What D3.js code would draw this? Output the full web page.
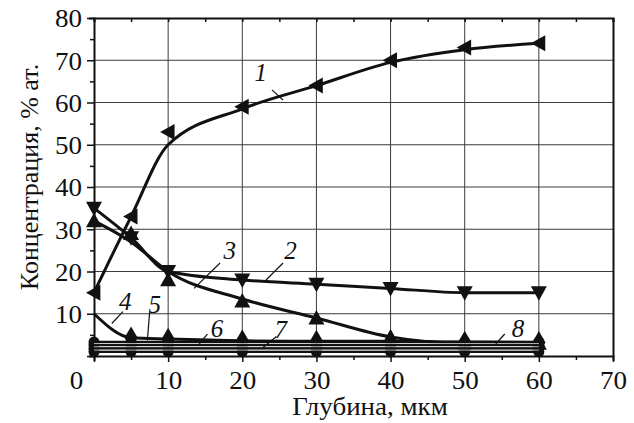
<!DOCTYPE html>
<html><head><meta charset="utf-8">
<script src="https://cdn.jsdelivr.net/npm/d3@7"></script>
<style>body{margin:0;background:#fff}svg{display:block}</style>
</head><body>
<svg id="c" width="634" height="423" style="font-family:'Times New Roman'"></svg>
<script>
const depth = [0, 5, 10, 20, 30, 40, 50, 60];
const s1 = [15, 33, 53, 59, 64, 70, 73, 74];
const s1curve = [15, 33, 50, 58.5, 64, 69.5, 72.5, 74];
const s2 = [35, 28, 20, 18, 17, 16, 15, 15];
const s3 = [32, 29, 18, 13, 9, 4.5, 3, 3];
const s3curve = [32, 27, 20, 13.5, 9, 4.5, 3, 3];
const s4 = [10, 4.3, 4, 3.6, 3.5, 3.5, 3.3, 3.2];
const s5 = [3.3, 3.3, 3.3, 3.3, 3.3, 3.3, 3.3, 3.3];
const s6 = [2.6, 2.6, 2.6, 2.6, 2.6, 2.6, 2.6, 2.6];
const s7 = [1.8, 1.8, 1.8, 1.8, 1.8, 1.8, 1.8, 1.8];
const s8 = [1.0, 1.0, 1.0, 1.0, 1.0, 1.0, 1.0, 1.0];
const xTicks = [0, 10, 20, 30, 40, 50, 60, 70];
const yTicks = [10, 20, 30, 40, 50, 60, 70, 80];
const xTitle = "Глубина, мкм";
const yTitle = "Концентрация, % ат.";
const labels = [
  {t: "1", x: 22.5, y: 65, x1: 24, y1: 63, x2: 25.5, y2: 60.6},
  {t: "2", x: 26.5, y: 23, x1: 25.5, y1: 22, x2: 23.2, y2: 18},
  {t: "3", x: 18.3, y: 23, x1: 17, y1: 22, x2: 13.5, y2: 16},
  {t: "4", x: 4.2, y: 11, x1: 3.9, y1: 10.5, x2: 2.4, y2: 7.7},
  {t: "5", x: 8.2, y: 10.2, x1: 7.5, y1: 10.3, x2: 7.2, y2: 3.7},
  {t: "6", x: 16.6, y: 4.6, x1: 15.3, y1: 5.2, x2: 14.2, y2: 2.9},
  {t: "7", x: 25.2, y: 4.2, x1: 24.6, y1: 4.6, x2: 22.8, y2: 2.0},
  {t: "8", x: 57.2, y: 4.6, x1: 55.4, y1: 5.2, x2: 54.2, y2: 2.9}
];
const FONT = "Times New Roman";
const SX = 1.08;

const svg = d3.select("#c");
const L = 94, R = 613, T = 18, B = 356;
const x = d3.scaleLinear().domain([0, 70]).range([L, R]);
const y = d3.scaleLinear().domain([0, 80]).range([B, T]);

// grid
const g = svg.append("g");
g.selectAll(".gx").data(xTicks.slice(1, -1)).join("line")
  .attr("x1", d => x(d)).attr("x2", d => x(d)).attr("y1", T).attr("y2", B)
  .attr("stroke", "#3a3a3a").attr("stroke-width", 1);
g.selectAll(".gy").data(yTicks.slice(0, -1)).join("line")
  .attr("x1", L).attr("x2", R).attr("y1", d => y(d)).attr("y2", d => y(d))
  .attr("stroke", "#3a3a3a").attr("stroke-width", 1);

// axes
const minorX = d3.range(0, 71, 5), minorY = d3.range(0, 81, 5);
const xb = d3.axisBottom(x).tickValues(minorX).tickSize(5).tickFormat(d => d % 10 === 0 ? d : "");
const ax = svg.append("g").attr("transform", `translate(0,${B})`).call(xb);
ax.selectAll(".tick line").attr("y2", d => d % 10 === 0 ? 6 : 4);
ax.selectAll("text").attr("y", 33).attr("dy", null).attr("x", d => d === 0 ? -18 / SX : 0)
  .attr("transform", `scale(${SX},1)`);
const yl = d3.axisLeft(y).tickValues(minorY).tickSize(5).tickFormat(d => d % 10 === 0 && d !== 0 ? d : "");
const ay = svg.append("g").attr("transform", `translate(${L},0)`).call(yl);
ay.selectAll(".tick line").attr("x2", d => d % 10 === 0 ? -7 : -4);
ay.selectAll("text").attr("x", -12 / SX).attr("dy", "0.35em").attr("transform", `scale(${SX},1)`);
const at = svg.append("g").attr("transform", `translate(0,${T})`).call(d3.axisTop(x).tickValues(minorX).tickSize(-4).tickFormat(""));
const ar = svg.append("g").attr("transform", `translate(${R},0)`).call(d3.axisRight(y).tickValues(minorY).tickSize(0).tickFormat(""));
[ax, ay, at, ar].forEach(a => {
  a.attr("font-family", FONT).attr("font-size", 25);
  a.selectAll("text").style("font-family", `"${FONT}"`).style("font-size", "25px").attr("fill", "#111");
  a.select(".domain").attr("stroke", "#111").attr("stroke-width", 2);
  a.selectAll(".tick line").attr("stroke", "#111").attr("stroke-width", 1.5);
});

// lines
const line = d3.line().x((d, i) => x(depth[i])).y(d => y(d)).curve(d3.curveMonotoneX);
const curves = [s1curve, s2, s3curve, s4, s5, s6, s7, s8];
svg.append("g").selectAll("path").data(curves).join("path")
  .attr("d", d => line(d)).attr("fill", "none").attr("stroke", "#111").attr("stroke-width", (d, i) => i >= 4 ? 2.6 : 3);

// markers
const tri = (cx, cy, s, dir) => {
  if (dir === "left") return `M${cx - s},${cy}L${cx + s * 0.8},${cy - s}L${cx + s * 0.8},${cy + s}Z`;
  if (dir === "down") return `M${cx},${cy + s}L${cx - s},${cy - s * 0.8}L${cx + s},${cy - s * 0.8}Z`;
  return `M${cx},${cy - s}L${cx - s},${cy + s * 0.8}L${cx + s},${cy + s * 0.8}Z`;
};
const mk = svg.append("g").attr("fill", "#111");
mk.selectAll(".m1").data(s1).join("path").attr("d", (d, i) => tri(x(depth[i]), y(d), 8, "left"));
mk.selectAll(".m2").data(s2).join("path").attr("d", (d, i) => tri(x(depth[i]), y(d), 8, "down"));
mk.selectAll(".m3").data(s3).join("path").attr("d", (d, i) => tri(x(depth[i]), y(d), 8, "up"));
const diamond = d3.symbol().type(d3.symbolDiamond).size(150);
mk.selectAll(".m4").data(s4.slice(1)).join("path")
  .attr("transform", (d, i) => `translate(${x(depth[i + 1])},${y(d)})`).attr("d", diamond());
[s5, s6, s7, s8].forEach(s => {
  mk.append("g").selectAll("circle").data(s).join("circle")
    .attr("cx", (d, i) => x(depth[i])).attr("cy", d => y(d)).attr("r", 5.5);
});
const sepLine = d3.line().x((d, i) => x(depth[i])).y(d => y(d));
[[s5, s6], [s6, s7], [s7, s8]].forEach(([a, b]) => {
  const mid = a.map((v, i) => (v + b[i]) / 2);
  svg.append("path").attr("d", sepLine(mid)).attr("fill", "none").attr("stroke", "#ddd").attr("stroke-width", 0.8);
});

// labels
const lg = svg.append("g");
labels.forEach(l => {
  lg.append("text").attr("x", x(l.x)).attr("y", y(l.y)).style("font-size", "25px").style("font-style", "italic")
    .style("font-family", `"${FONT}"`).attr("fill", "#111").attr("text-anchor", "middle").text(l.t);
  lg.append("line").attr("x1", x(l.x1)).attr("y1", y(l.y1)).attr("x2", x(l.x2)).attr("y2", y(l.y2)).attr("stroke", "#111").attr("stroke-width", 1.2);
});

// titles
svg.append("text").attr("transform", `translate(370,415) scale(${SX},1)`).attr("text-anchor", "middle").style("font-size", "25px")
  .style("font-family", `"${FONT}"`).attr("fill", "#111").text(xTitle);
svg.append("text").attr("transform", `translate(38,177) rotate(-90)`).attr("text-anchor", "middle").style("font-size", "26px")
  .style("font-family", `"${FONT}"`).attr("fill", "#111").text(yTitle);
</script>
</body></html>
